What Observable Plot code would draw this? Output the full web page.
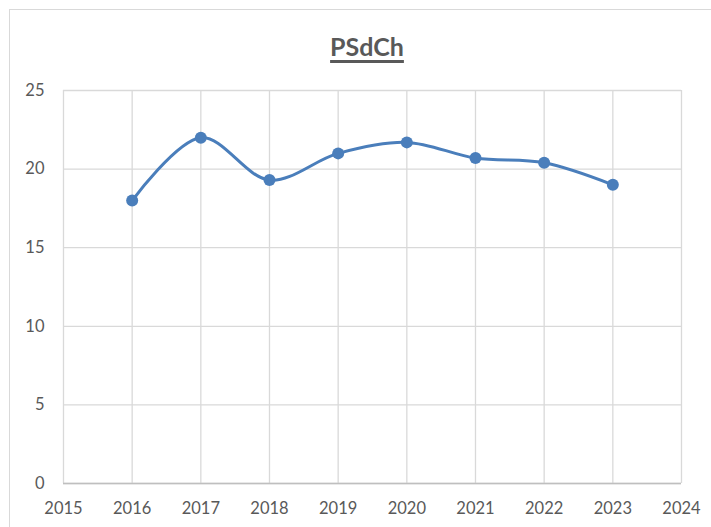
<!DOCTYPE html>
<html>
<head>
<meta charset="utf-8">
<script src="https://cdn.jsdelivr.net/npm/d3@7"></script>
<script src="https://cdn.jsdelivr.net/npm/@observablehq/plot@0.6"></script>
<style>
  html, body { margin: 0; padding: 0; background: #fff; width: 711px; height: 527px; overflow: hidden; }
  #frame { position: absolute; left: 9px; top: 9px; width: 800px; height: 600px; border: 1px solid #d9d9d9; box-sizing: border-box; }
  #title { position: absolute; left: 0; width: 734px; top: 31px; text-align: center; font-family: Lato, "Open Sans", sans-serif; font-weight: bold; font-size: 25px; color: #595959; text-decoration: underline; text-decoration-thickness: 3px; text-underline-offset: 4px; }
  #chart { position: absolute; left: 0; top: 0; }
</style>
</head>
<body>
<div id="frame"></div>
<div id="title">PSdCh</div>
<div id="chart"></div>
<script>
const years = [2016, 2017, 2018, 2019, 2020, 2021, 2022, 2023];
const values = [18.0, 22.0, 19.3, 21.0, 21.7, 20.7, 20.4, 19.0];
const xTicks = [2015, 2016, 2017, 2018, 2019, 2020, 2021, 2022, 2023, 2024];
const yTicks = [0, 5, 10, 15, 20, 25];

const data = years.map((y, i) => ({year: y, value: values[i]}));

const chart = Plot.plot({
  width: 711,
  height: 527,
  marginLeft: 63,
  marginRight: 30,
  marginTop: 90,
  marginBottom: 44,
  style: {fontFamily: "Lato, 'Open Sans', sans-serif", fontSize: "16.5px", color: "#595959", background: "transparent"},
  x: {domain: [2015, 2024], ticks: xTicks, tickFormat: d => String(d), tickSize: 0, tickPadding: 19, label: null},
  y: {domain: [0, 25], ticks: yTicks, tickSize: 0, tickPadding: 19, label: null},
  marks: [
    Plot.gridX(xTicks, {stroke: "#d9d9d9", strokeOpacity: 1, strokeWidth: 1.3}),
    Plot.gridY(yTicks, {stroke: "#d9d9d9", strokeOpacity: 1, strokeWidth: 1.3}),
    Plot.ruleY([0], {stroke: "#bfbfbf", strokeWidth: 1.3}),
    Plot.line(data, {x: "year", y: "value", stroke: "#4a7ebb", strokeWidth: 3, curve: "catmull-rom"}),
    Plot.dot(data, {x: "year", y: "value", r: 6, fill: "#4a7ebb", stroke: "none"})
  ]
});
document.getElementById("chart").appendChild(chart);
</script>
</body>
</html>
